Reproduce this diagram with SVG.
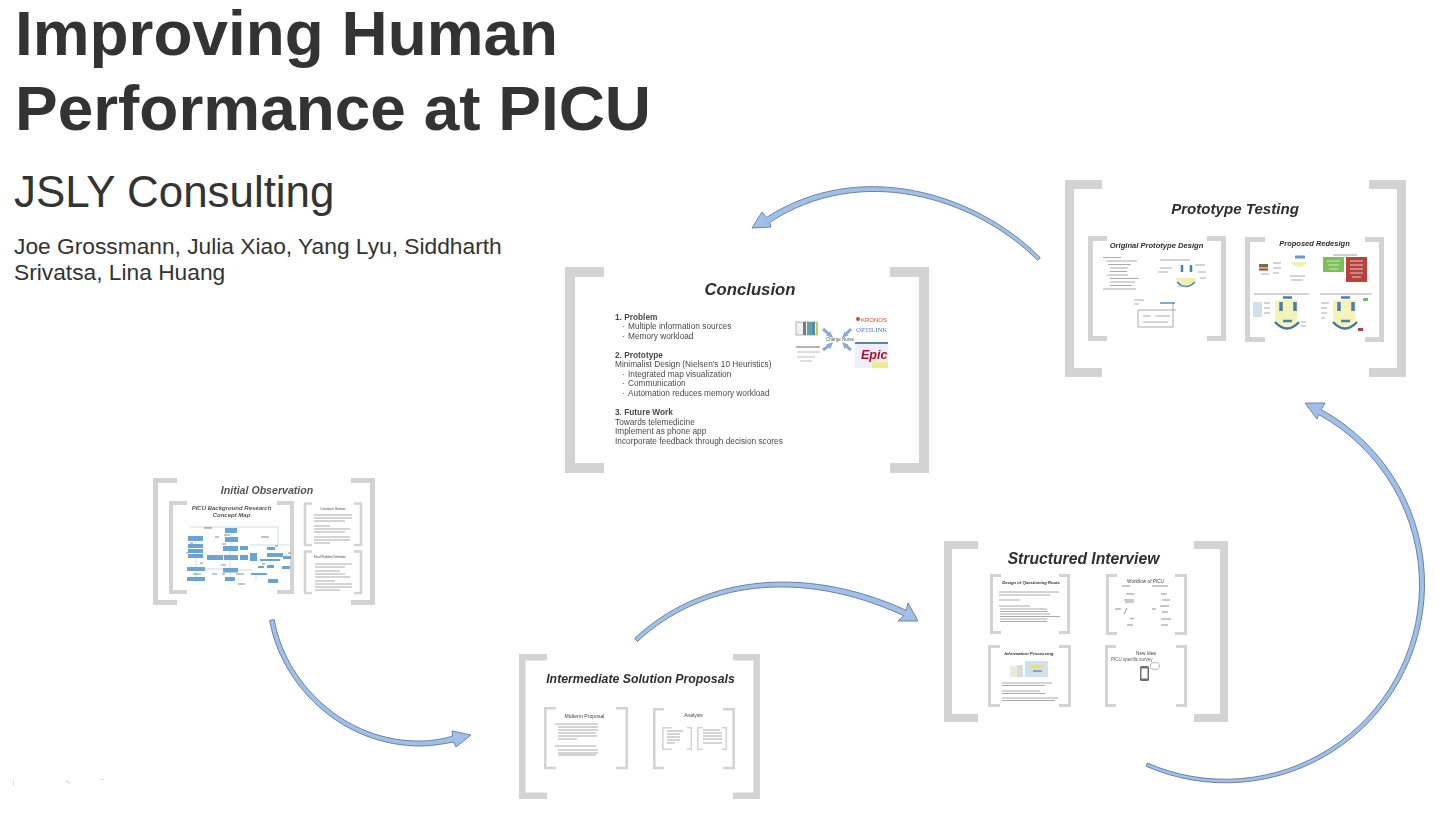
<svg xmlns="http://www.w3.org/2000/svg" width="1446" height="816" viewBox="0 0 1446 816">
<style>
text{font-family:"Liberation Sans",Arial,sans-serif;fill:#333}
.h{font-weight:bold}
.t{font-weight:bold;font-style:italic;text-anchor:middle;fill:#2f2f2f}
.n{font-style:normal;font-weight:normal;fill:#444}
.m{font-size:8.3px;fill:#4a4a4a}
.b{font-weight:bold}
.br{fill:none;stroke:#d3d3d3}
.arrow{fill:#a0c0ea;stroke:#6d83a3;stroke-width:1;stroke-linejoin:round}
.l{stroke:#aaa;stroke-width:1;fill:none}
.bl{fill:#6ba4d2}
.blur{filter:url(#bl)}
.soft{filter:url(#sf)}
</style>
<defs>
<filter id="bl" x="-5%" y="-5%" width="110%" height="110%"><feGaussianBlur stdDeviation="0.4"/></filter>
<filter id="sf" x="-5%" y="-5%" width="110%" height="110%"><feGaussianBlur stdDeviation="0.25"/></filter>
</defs>
<rect width="1446" height="816" fill="#fff"/>
<g id="title">
<text class="h" x="15" y="55" font-size="63" textLength="543" lengthAdjust="spacingAndGlyphs">Improving Human</text>
<text class="h" x="15" y="129.500" font-size="63" textLength="636" lengthAdjust="spacingAndGlyphs">Performance at PICU</text>
<text x="14" y="207" font-size="43.900">JSLY Consulting</text>
<text x="14" y="254" font-size="22.750">Joe Grossmann, Julia Xiao, Yang Lyu, Siddharth</text>
<text x="14" y="280" font-size="22.750">Srivatsa, Lina Huang</text>
</g>
<g id="connectors">
<path class="arrow" d="M274.300,619.600C284,678.800 341.500,743 423,741C435,740.500 445,738.500 452.500,736L452,731L471,735L456,747L453.500,742C445,743.500 435,745.500 423,746C338.500,747 280,681.200 269.700,620.400Z"/>
<path class="arrow" d="M634.600,638.500C698.700,578 800.400,562.300 906.200,610.300L908,603L918,621L898,621L903.800,615.700C799.600,567.700 701.300,582 637.400,641.500Z"/>
<path class="arrow" d="M1146,766.200A199,199 0 0 0 1424.500,588A199,199 0 0 0 1321.200,409.600L1325,403L1305,403L1317,419L1318.600,414.500A194.500,194.500 0 0 1 1419.500,588A194.500,194.500 0 0 1 1147.400,763.100Z"/>
<path class="arrow" d="M1040.300,257.700C975.800,192.900 859.700,157.400 766.400,217.500L762,212L752,228L771,227L769.600,222.500C860.300,162.600 974.200,197.100 1037.700,260.300Z"/>
</g>
<g id="conclusion">
<path class="br" stroke-width="10" d="M604,272H570V468H604M890,272H924V468H890"/>
<text class="t soft" x="750" y="295" font-size="16.700">Conclusion</text>
<g class="soft">
<text class="m b" x="615" y="320">1. Problem</text>
<text class="m" x="622" y="329">·<tspan x="628">Multiple information sources</tspan></text>
<text class="m" x="622" y="339">·<tspan x="628">Memory workload</tspan></text>
<text class="m b" x="615" y="358">2. Prototype</text>
<text class="m" x="615" y="367">Minimalist Design (Nielsen's 10 Heuristics)</text>
<text class="m" x="622" y="377">·<tspan x="628">Integrated map visualization</tspan></text>
<text class="m" x="622" y="386">·<tspan x="628">Communication</tspan></text>
<text class="m" x="622" y="396">·<tspan x="628">Automation reduces memory workload</tspan></text>
<text class="m b" x="615" y="415">3. Future Work</text>
<text class="m" x="615" y="425">Towards telemedicine</text>
<text class="m" x="615" y="434">Implement as phone app</text>
<text class="m" x="615" y="444">Incorporate feedback through decision scores</text>
</g>
<g class="blur">
<rect x="796" y="322" width="21" height="13" fill="#f2f2f2" stroke="#888" stroke-width=".6"/>
<rect x="803" y="322" width="3" height="13" fill="#778"/>
<rect x="807" y="322" width="5" height="13" fill="#5a9"/>
<rect x="812" y="322" width="3" height="13" fill="#58a"/>
<rect x="816" y="322" width="2" height="13" fill="#cc4"/>
<path d="M796,347H820" stroke="#444" stroke-width=".8"/>
<path d="M797,352H820M797,357H815M800,361H812" stroke="#aaa" stroke-width=".8" fill="none"/>
<path d="M823,329L830,335M823,350L830,345M851,329L845,335M851,350L845,345" stroke="#8cabd4" stroke-width="3" fill="none"/>
<path d="M833,338L826,335.500L830.500,331.500ZM833,342L826,344.500L830.500,349ZM842,338L848.500,335.500L844.500,331.500ZM842,342L848.500,344.500L844.500,349Z" fill="#8cabd4"/>
<text x="826" y="341" font-size="4.500" style="fill:#555">Charge Nurse</text>
<circle cx="858" cy="319" r="2" fill="#c84f22"/>
<text x="861" y="322" font-size="6" style="fill:#c0562a">KRONOS</text>
<text x="856" y="332" font-size="6.800" style="fill:#4a7fc0;font-family:'Liberation Serif',serif">OPTILINK</text>
<rect x="855" y="342" width="33" height="26" fill="#eef"/>
<rect x="855" y="342" width="33" height="2" fill="#58a"/>
<rect x="872" y="362" width="16" height="6" fill="#ee8"/>
<text x="861" y="359" font-size="12.500" style="fill:#a12;font-weight:bold;font-style:italic">Epic</text>
</g>
</g>
<g id="prototype-testing">
<path class="br" stroke-width="9" d="M1102,184.500H1069.500V372.500H1102M1369,184.500H1401.500V372.500H1369"/>
<text class="t soft" x="1235" y="214" font-size="15.100">Prototype Testing</text>
<path class="br" stroke-width="5" d="M1107,238.500H1090.500V338.500H1107M1207,238.500H1223.500V338.500H1207"/>
<path class="br" stroke-width="5" d="M1265,239.500H1247.500V339.500H1265M1365,239.500H1381.500V339.500H1365"/>
<text class="t soft" x="1156.500" y="248" font-size="7.600">Original Prototype Design</text>
<text class="t soft" x="1314.500" y="246" font-size="7.500">Proposed Redesign</text>
<g class="blur">
<path class="l" stroke-width=".8" d="M1103,257.500H1121M1106,261H1137M1108,264.500H1131M1110,268H1128M1110,271.500H1127M1107,275H1128M1110,278.500H1139M1110,282H1135M1110,285.500H1132M1103,289H1136"/>
<path d="M1176,278h20q-1,7 -10,7q-9,0 -10,-7z" fill="#f3efb0"/>
<path d="M1182,265V272M1191,265V272" stroke="#4a7fb0" stroke-width="2.500"/>
<path d="M1177,282q9,9 18,0" stroke="#4a7fb0" stroke-width="1.500" fill="none"/>
<path class="l" stroke-width=".7" d="M1160,260h30M1160,268h12M1158,272h10M1195,265h10M1198,272h8M1200,278h6M1178,286h8"/>
<path class="l" stroke-width=".8" d="M1138,310H1176M1138,310V327H1173V302M1143,316h8M1155,316h15M1143,322h25M1134,300h10M1134,304h5"/>
<path d="M1160,303h15" stroke="#5a8fbf" stroke-width="1.500"/>
<rect x="1323" y="257" width="21" height="15" fill="#7cc05a"/>
<rect x="1346" y="257" width="21" height="25" fill="#b8423a"/>
<path d="M1327,261h13M1328,265h11M1329,269h9M1350,261h13M1350,265h13M1350,269h13M1350,273h13M1352,277h9" stroke="#eee" stroke-width=".8"/>
<path d="M1333,255h24" stroke="#888" stroke-width=".8"/>
<rect x="1259" y="264" width="9" height="3" fill="#7a6a5a"/>
<rect x="1259" y="267" width="9" height="2" fill="#c9b060"/>
<rect x="1259" y="269" width="9" height="1.500" fill="#b04040"/>
<path d="M1295,257h10" stroke="#6a9ac8" stroke-width="3"/>
<path d="M1291,262a9,9 0 0 0 16,0z" fill="#f3efb0"/>
<path class="l" stroke-width=".8" d="M1273,263h8M1273,268h8M1273,273h6M1290,276h15M1291,280h12M1261,274h8"/>
<rect x="1253" y="302" width="9" height="15" fill="#cfe0ee"/>
<path class="l" stroke-width=".6" d="M1254,294h55M1320,294h52"/>
<path d="M1275,300h23v14q0,13 -11.500,13q-11.500,0 -11.500,-13z" fill="#f6f3b8"/>
<path d="M1281,302v9M1295,302v9" stroke="#4a7fb0" stroke-width="3.500"/>
<path d="M1283,297.500h9M1283,321h9" stroke="#4a7fb0" stroke-width="2.500"/>
<path d="M1275,322q12,13 24,0" stroke="#3f77ad" stroke-width="2.500" fill="none"/>
<path class="l" stroke-width=".7" d="M1264,303h6M1264,308h6M1264,313h6M1301,322h5M1301,326h5"/>
<path d="M1333,300h23v14q0,13 -11.500,13q-11.500,0 -11.500,-13z" fill="#f6f3b8"/>
<path d="M1339,302v9M1353,302v9" stroke="#4a7fb0" stroke-width="3.500"/>
<path d="M1341,297.500h9M1341,321h9" stroke="#4a7fb0" stroke-width="2.500"/>
<path d="M1333,322q12,13 24,0" stroke="#3f77ad" stroke-width="2.500" fill="none"/>
<rect x="1363" y="298" width="5" height="3" fill="#6ec05a"/>
<rect x="1358" y="328" width="5" height="3" fill="#b8423a"/>
<path class="l" stroke-width=".7" d="M1321,303h8M1321,308h6M1321,313h6M1321,318h4"/>
</g>
</g>
<g id="initial-observation">
<path class="br" stroke-width="5" d="M177,480.500H155.500V602.500H177M351,480.500H372.500V602.500H351"/>
<text class="t soft" x="267" y="494" font-size="10.600" style="fill:#555">Initial Observation</text>
<path class="br" stroke-width="4" d="M187,503H171V592H187M277,503H292V592H277"/>
<path class="br" stroke-width="2.500" d="M312,503.500H305V545H312M354,503.500H361V545H354"/>
<path class="br" stroke-width="2.500" d="M312,551.500H305V593H312M354,551.500H361V593H354"/>
<g class="soft">
<text class="t" x="231.500" y="510" font-size="6" style="fill:#555">PICU Background Research</text>
<text class="t" x="231.500" y="517" font-size="6" style="fill:#555">Concept Map</text>
</g>
<g class="blur">
<text class="t n" x="333" y="510" font-size="3.200">Literature Review</text>
<text class="t n" x="330" y="558" font-size="3">Final Problem Definition</text>
<path class="l" stroke="#bbb" d="M314,515H352M314,518H352M314,521H345M314,526H330M314,529H350M314,532H345M314,537H350M314,540H350M314,543H330M315,564H352M315,567H345M315,571H340M315,574H345M315,577H350M315,581H335M315,584H352M315,587H352M315,590H340" stroke-width=".7"/>
<path d="M190,527H278V545M231,533V537M231,542V546M195,540V544M230,551V555M196,558V567M230,560V568M196,571V577M230,572V578M205,569H223M238,570H252M250,545H290M256,573V580" stroke="#bcd4e6" stroke-width=".8" fill="none"/>
<g class="bl">
<rect x="225" y="528" width="12" height="5"/><rect x="188" y="536" width="15" height="5"/><rect x="188" y="544" width="15" height="4"/><rect x="188" y="549" width="15" height="4"/><rect x="188" y="554" width="15" height="4"/>
<rect x="225" y="537" width="13" height="5"/><rect x="223" y="546" width="15" height="5"/><rect x="240" y="546" width="8" height="4"/>
<rect x="207" y="555" width="16" height="5"/><rect x="224" y="555" width="14" height="5"/><rect x="240" y="555" width="8" height="5"/><rect x="187" y="567" width="18" height="4"/>
<rect x="223" y="568" width="15" height="4.500"/><rect x="187" y="577" width="18" height="4"/><rect x="225" y="577" width="10" height="4"/>
<rect x="268" y="579" width="10" height="4"/><rect x="250" y="553" width="7" height="8"/><rect x="260" y="559" width="20" height="2"/><rect x="267" y="547" width="8" height="3"/><rect x="267" y="553" width="16" height="4"/><rect x="283" y="556" width="8" height="3"/><rect x="282" y="566" width="8" height="3"/><rect x="267" y="565" width="7" height="3"/><rect x="251" y="573" width="16" height="2"/><rect x="258" y="566" width="6" height="2"/>
</g>
<path d="M204,528h8M215,537h4M224,535h6M190,543h3M222,544h4M200,563h3M186,553h2M221,565h5M193,574h8M212,574h5M222,574h3M236,574h8M238,584h7M261,537h8M275,546h3M288,553h3M262,564h3" stroke="#555" stroke-width=".7" fill="none"/>
</g>
</g>
<g id="structured-interview">
<path class="br" stroke-width="8" d="M978,545H948V718H978M1194,545H1224V718H1194"/>
<text class="t soft" x="1083.500" y="564" font-size="15.700">Structured Interview</text>
<path class="br" stroke-width="3" d="M1001,575.500H991.500V632.500H1001M1059,575.500H1068.500V632.500H1059"/>
<path class="br" stroke-width="3" d="M1117,575.500H1107.500V633.500H1117M1175,575.500H1185.500V633.500H1175"/>
<path class="br" stroke-width="3" d="M1000,646.500H989.500V705.500H1000M1059,646.500H1069.500V705.500H1059"/>
<path class="br" stroke-width="3" d="M1116,646.500H1106.500V705.500H1116M1176,646.500H1185.500V705.500H1176"/>
<g class="blur">
<text class="t" x="1031" y="584" font-size="4.200">Design of Questioning Route</text>
<text class="t n" x="1145.500" y="583" font-size="4.700">Workflow of PICU</text>
<text class="t" x="1029" y="655" font-size="4.400">Information Processing</text>
<text class="t n" x="1146" y="655" font-size="4.700">New Idea</text>
<text x="1111" y="661" font-size="4.500" style="fill:#555">PICU specific survey</text>
<rect x="1140" y="666" width="9" height="15" rx="1.500" fill="#6f6f6f"/><rect x="1141.500" y="668.500" width="6" height="10" fill="#fff"/>
<ellipse cx="1155" cy="666" rx="4.500" ry="3.500" fill="#fff" stroke="#888" stroke-width=".6"/>
<path class="l" stroke="#bbb" d="M999,592H1059M999,595H1050M999,600H1020M999,606H1030M1000,609H1047M1000,611.500H1047M1000,614H1050M1000,616.500H1060M1000,619H1047M1000,621.500H1047" stroke-width=".7"/>
<path d="M1126,594h8M1124,600h10M1125,602h9M1127,608l-3,6M1130,619l4,-1M1127,625h6M1161,594h6M1162,600h8M1160,606h9M1162,612h6M1161,619h10M1161,625h7M1115,609h6M1152,609h4M1122,586h8M1152,586h16" stroke="#666" stroke-width=".7" fill="none"/>
<rect x="1010" y="666" width="7" height="11" fill="#e8ecd8"/><rect x="1017" y="665" width="6" height="12" fill="#ddd"/>
<rect x="1025" y="661" width="23" height="16" fill="#cfe0ee"/>
<rect x="1030" y="665" width="14" height="3" fill="#f2e34a"/>
<path d="M1033,671h9" stroke="#444" stroke-width=".8"/>
<path class="l" stroke="#bbb" d="M1002,683H1052M1002,685.500H1045M1002,691H1040M1002,693.500H1045M1002,698H1058M1002,700.500H1055" stroke-width=".7"/>
</g>
</g>
<g id="intermediate-solution-proposals">
<path class="br" stroke-width="6.500" d="M547,657.300H522.300V795.700H547M733,657.300H756.700V795.700H733"/>
<text class="t soft" x="640.500" y="683" font-size="12.300">Intermediate Solution Proposals</text>
<path class="br" stroke-width="2.500" d="M556,708.300H545.300V768H556M616,708.300H626.700V768H616"/>
<path class="br" stroke-width="2.500" d="M664,709.300H654.300V768H664M723,709.300H733.700V768H723"/>
<path class="br" stroke-width="1.500" d="M672,727.800H662.800V749.300H672M687,727.800H691.300V749.300H687"/>
<path class="br" stroke-width="1.500" d="M703,727.800H697.800V749.300H703M722,727.800H726.300V749.300H722"/>
<g class="blur">
<text class="t n" x="584.500" y="718" font-size="5.100">Midterm Proposal</text>
<text class="t n" x="693.500" y="717" font-size="5">Analysis</text>
<path class="l" stroke="#999" d="M555,724H598M558,727H598M558,730H598M558,733H596M558,736H597M558,739H577M555,746H596M558,750H598M558,753H598M558,755H596" stroke-width=".7"/>
<path class="l" stroke="#999" d="M667,731H683M667,734H680M667,737H680M667,740H680M667,743H675M703,730H720M703,733H722M703,736H722M703,739H722M703,743H722" stroke-width=".6"/>
</g>
</g>
<g id="specks" fill="#ddd">
<rect x="13" y="780" width="1" height="6"/><rect x="66" y="780" width="5" height="1.500" transform="rotate(30 66 780)"/><rect x="100" y="779" width="4" height="1"/>
</g>
</svg>
